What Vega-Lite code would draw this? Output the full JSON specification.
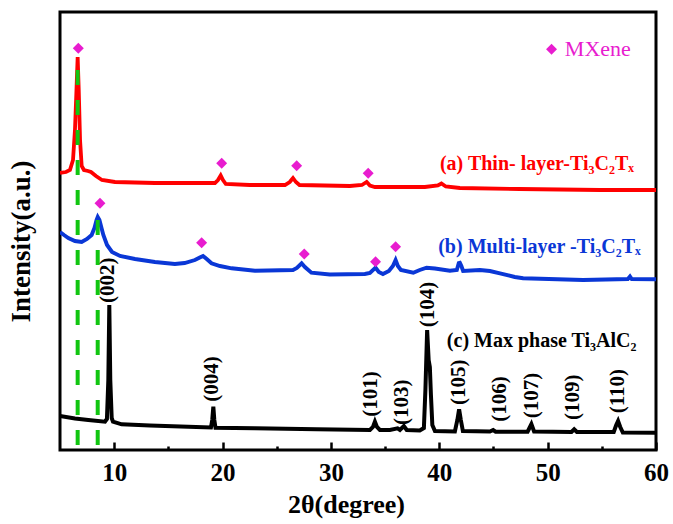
{
  "$schema": "https://vega.github.io/schema/vega-lite/v6.json",
  "autosize": "none",
  "width": 596,
  "height": 438,
  "padding": {"left": 60, "top": 12, "right": 17, "bottom": 74},
  "config": {
    "view": {"stroke": "black", "strokeWidth": 3},
    "font": "Liberation Serif",
    "axis": {"labelFont": "Liberation Serif", "titleFont": "Liberation Serif"},
    "text": {"font": "Liberation Serif"}
  },
  "datasets": {
    "xrd": [
      {"s": "a", "x": 5.0, "y": 277}, {"s": "a", "x": 5.55, "y": 278}, {"s": "a", "x": 5.92, "y": 280}, {"s": "a", "x": 6.2, "y": 290},
      {"s": "a", "x": 6.38, "y": 320}, {"s": "a", "x": 6.52, "y": 360}, {"s": "a", "x": 6.63, "y": 393}, {"s": "a", "x": 6.73, "y": 360},
      {"s": "a", "x": 6.85, "y": 310}, {"s": "a", "x": 7.0, "y": 284}, {"s": "a", "x": 7.21, "y": 280}, {"s": "a", "x": 7.58, "y": 279},
      {"s": "a", "x": 7.86, "y": 278}, {"s": "a", "x": 8.32, "y": 274}, {"s": "a", "x": 8.87, "y": 270}, {"s": "a", "x": 10.07, "y": 268},
      {"s": "a", "x": 13.76, "y": 267}, {"s": "a", "x": 17.9, "y": 267}, {"s": "a", "x": 19.3, "y": 267}, {"s": "a", "x": 19.58, "y": 270},
      {"s": "a", "x": 19.83, "y": 274.5}, {"s": "a", "x": 20.04, "y": 270}, {"s": "a", "x": 20.3, "y": 266}, {"s": "a", "x": 22.5, "y": 265},
      {"s": "a", "x": 25.76, "y": 265}, {"s": "a", "x": 26.2, "y": 268}, {"s": "a", "x": 26.5, "y": 272}, {"s": "a", "x": 26.77, "y": 268},
      {"s": "a", "x": 27.1, "y": 265}, {"s": "a", "x": 31.75, "y": 264}, {"s": "a", "x": 32.86, "y": 265}, {"s": "a", "x": 33.3, "y": 268},
      {"s": "a", "x": 33.6, "y": 264.5}, {"s": "a", "x": 34.06, "y": 263}, {"s": "a", "x": 38.67, "y": 263}, {"s": "a", "x": 39.87, "y": 264.5},
      {"s": "a", "x": 40.2, "y": 266.5}, {"s": "a", "x": 40.6, "y": 263.5}, {"s": "a", "x": 41.9, "y": 262}, {"s": "a", "x": 47.4, "y": 261},
      {"s": "a", "x": 54.8, "y": 260}, {"s": "a", "x": 60.0, "y": 260},

      {"s": "b", "x": 5.0, "y": 218}, {"s": "b", "x": 5.37, "y": 215}, {"s": "b", "x": 5.77, "y": 212}, {"s": "b", "x": 6.38, "y": 209},
      {"s": "b", "x": 7.0, "y": 208}, {"s": "b", "x": 7.49, "y": 211}, {"s": "b", "x": 7.92, "y": 215}, {"s": "b", "x": 8.18, "y": 222},
      {"s": "b", "x": 8.37, "y": 230}, {"s": "b", "x": 8.48, "y": 233}, {"s": "b", "x": 8.64, "y": 230}, {"s": "b", "x": 8.83, "y": 222},
      {"s": "b", "x": 9.0, "y": 215}, {"s": "b", "x": 9.34, "y": 205}, {"s": "b", "x": 9.8, "y": 198}, {"s": "b", "x": 10.54, "y": 194},
      {"s": "b", "x": 11.92, "y": 191}, {"s": "b", "x": 13.76, "y": 188}, {"s": "b", "x": 15.6, "y": 186}, {"s": "b", "x": 16.5, "y": 187},
      {"s": "b", "x": 17.45, "y": 190}, {"s": "b", "x": 17.9, "y": 192.5}, {"s": "b", "x": 18.2, "y": 194}, {"s": "b", "x": 18.54, "y": 191},
      {"s": "b", "x": 18.98, "y": 186.7}, {"s": "b", "x": 19.76, "y": 184}, {"s": "b", "x": 20.84, "y": 181.7}, {"s": "b", "x": 22.99, "y": 179.3},
      {"s": "b", "x": 26.5, "y": 180}, {"s": "b", "x": 26.86, "y": 182}, {"s": "b", "x": 27.3, "y": 186.7}, {"s": "b", "x": 27.6, "y": 183},
      {"s": "b", "x": 28.2, "y": 177.3}, {"s": "b", "x": 29.9, "y": 175.5}, {"s": "b", "x": 33.13, "y": 176}, {"s": "b", "x": 33.6, "y": 177},
      {"s": "b", "x": 34.12, "y": 182.3}, {"s": "b", "x": 34.42, "y": 178}, {"s": "b", "x": 34.8, "y": 176}, {"s": "b", "x": 35.35, "y": 179},
      {"s": "b", "x": 35.72, "y": 184}, {"s": "b", "x": 35.97, "y": 190}, {"s": "b", "x": 36.18, "y": 184}, {"s": "b", "x": 36.46, "y": 180},
      {"s": "b", "x": 37.6, "y": 177.3}, {"s": "b", "x": 38.2, "y": 180}, {"s": "b", "x": 38.83, "y": 182.3}, {"s": "b", "x": 39.6, "y": 181.5},
      {"s": "b", "x": 40.98, "y": 179.3}, {"s": "b", "x": 41.62, "y": 180}, {"s": "b", "x": 41.8, "y": 187}, {"s": "b", "x": 41.9, "y": 187.3},
      {"s": "b", "x": 42.04, "y": 184}, {"s": "b", "x": 42.2, "y": 179}, {"s": "b", "x": 43.75, "y": 180}, {"s": "b", "x": 44.67, "y": 179},
      {"s": "b", "x": 45.6, "y": 176.7}, {"s": "b", "x": 46.97, "y": 173}, {"s": "b", "x": 47.74, "y": 171.7}, {"s": "b", "x": 53.27, "y": 170},
      {"s": "b", "x": 57.4, "y": 171}, {"s": "b", "x": 57.6, "y": 173.5}, {"s": "b", "x": 57.76, "y": 171}, {"s": "b", "x": 60.0, "y": 170.7},

      {"s": "c", "x": 5.0, "y": 34}, {"s": "c", "x": 6.38, "y": 31.5}, {"s": "c", "x": 7.61, "y": 30}, {"s": "c", "x": 9.15, "y": 28.3},
      {"s": "c", "x": 9.33, "y": 31}, {"s": "c", "x": 9.46, "y": 70}, {"s": "c", "x": 9.55, "y": 145}, {"s": "c", "x": 9.64, "y": 70},
      {"s": "c", "x": 9.77, "y": 32}, {"s": "c", "x": 9.89, "y": 28.3}, {"s": "c", "x": 10.69, "y": 25.7}, {"s": "c", "x": 13.3, "y": 24.5},
      {"s": "c", "x": 16.84, "y": 23.3}, {"s": "c", "x": 18.93, "y": 22.5}, {"s": "c", "x": 19.05, "y": 30}, {"s": "c", "x": 19.15, "y": 43.3},
      {"s": "c", "x": 19.24, "y": 30}, {"s": "c", "x": 19.35, "y": 22.2}, {"s": "c", "x": 22.99, "y": 21.7}, {"s": "c", "x": 28.68, "y": 20.7},
      {"s": "c", "x": 33.6, "y": 20}, {"s": "c", "x": 33.88, "y": 23}, {"s": "c", "x": 34.06, "y": 28.3}, {"s": "c", "x": 34.25, "y": 23},
      {"s": "c", "x": 34.52, "y": 20}, {"s": "c", "x": 35.44, "y": 20}, {"s": "c", "x": 36.15, "y": 21.7}, {"s": "c", "x": 36.37, "y": 20},
      {"s": "c", "x": 36.73, "y": 24}, {"s": "c", "x": 37.0, "y": 20}, {"s": "c", "x": 38.2, "y": 19.5}, {"s": "c", "x": 38.58, "y": 22},
      {"s": "c", "x": 38.72, "y": 60}, {"s": "c", "x": 38.88, "y": 120}, {"s": "c", "x": 39.02, "y": 90}, {"s": "c", "x": 39.13, "y": 83},
      {"s": "c", "x": 39.23, "y": 55}, {"s": "c", "x": 39.36, "y": 25}, {"s": "c", "x": 39.6, "y": 19}, {"s": "c", "x": 41.44, "y": 18.5},
      {"s": "c", "x": 41.67, "y": 30}, {"s": "c", "x": 41.83, "y": 40.7}, {"s": "c", "x": 41.99, "y": 30}, {"s": "c", "x": 42.18, "y": 19},
      {"s": "c", "x": 44.67, "y": 18.5}, {"s": "c", "x": 44.97, "y": 20}, {"s": "c", "x": 45.2, "y": 18.3}, {"s": "c", "x": 48.15, "y": 18.3},
      {"s": "c", "x": 48.5, "y": 26}, {"s": "c", "x": 48.75, "y": 18.5}, {"s": "c", "x": 52.2, "y": 18}, {"s": "c", "x": 52.45, "y": 20.7},
      {"s": "c", "x": 52.7, "y": 18}, {"s": "c", "x": 56.1, "y": 18}, {"s": "c", "x": 56.33, "y": 25}, {"s": "c", "x": 56.5, "y": 29},
      {"s": "c", "x": 56.7, "y": 23}, {"s": "c", "x": 56.94, "y": 17.5}, {"s": "c", "x": 60.0, "y": 17.3}
    ],
    "markers": [
      {"x": 6.69, "y": 401.7}, {"x": 19.92, "y": 286.7}, {"x": 26.84, "y": 284.3}, {"x": 33.44, "y": 276.7},
      {"x": 8.69, "y": 246.7}, {"x": 18.07, "y": 207.3}, {"x": 27.54, "y": 196}, {"x": 34.12, "y": 188.3},
      {"x": 35.97, "y": 203.3}, {"x": 50.36, "y": 400.7}
    ],
    "guides": [
      {"x": 6.63, "top": 380, "bottom": 0},
      {"x": 8.48, "top": 230, "bottom": 0}
    ],
    "hkl": [
      {"x": 9.43, "y": 147, "t": "(002)"}, {"x": 19.07, "y": 48.3, "t": "(004)"}, {"x": 33.67, "y": 33.3, "t": "(101)"},
      {"x": 36.6, "y": 25, "t": "(103)"}, {"x": 38.93, "y": 122.7, "t": "(104)"}, {"x": 41.8, "y": 45, "t": "(105)"},
      {"x": 45.6, "y": 28.3, "t": "(106)"}, {"x": 48.6, "y": 31.7, "t": "(107)"}, {"x": 52.35, "y": 30, "t": "(109)"},
      {"x": 56.5, "y": 36.7, "t": "(110)"}
    ],
    "names": [
      {"s": "a", "x": 40.06, "y": 280, "t": "(a) Thin- layer-Ti₃C₂Tₓ"},
      {"s": "b", "x": 39.9, "y": 197, "t": "(b) Multi-layer -Ti₃C₂Tₓ"},
      {"s": "c", "x": 40.7, "y": 103, "t": "(c) Max phase Ti₃AlC₂"}
    ],
    "legend": [{"x": 51.59, "y": 401, "t": "MXene"}]
  },
  "layer": [
    {
      "data": {"name": "xrd"},
      "mark": {"type": "line", "clip": true},
      "encoding": {
        "x": {
          "field": "x", "type": "quantitative",
          "scale": {"domain": [5, 60], "nice": false, "zero": false},
          "axis": {
            "title": "2θ(degree)",
            "titleFont": "Liberation Serif", "titleFontWeight": "bold", "titleFontSize": 26, "titleColor": "black",
            "titleX": 286, "titleY": 62, "titleBaseline": "alphabetic", "titleAlign": "center", "titleAnchor": null,
            "values": [10, 15, 20, 25, 30, 35, 40, 45, 50, 55, 60],
            "labelExpr": "datum.value % 10 === 0 ? datum.label : ''",
            "labelFont": "Liberation Serif", "labelFontWeight": "bold", "labelFontSize": 25, "labelColor": "black",
            "labelBaseline": "alphabetic", "labelPadding": 38, "labelFlush": false, "labelOverlap": false,
            "domain": false, "grid": false,
            "tickColor": "black", "tickWidth": 2.5,
            "tickSize": {"condition": {"test": "datum.value % 10 === 0", "value": -8}, "value": -4}
          }
        },
        "y": {
          "field": "y", "type": "quantitative",
          "scale": {"domain": [0, 438], "nice": false, "zero": false},
          "axis": {
            "title": "Intensity(a.u.)",
            "titleFont": "Liberation Serif", "titleFontWeight": "bold", "titleFontSize": 27, "titleColor": "black",
            "titleAngle": 270, "titleX": -31, "titleY": 229, "titleBaseline": "alphabetic", "titleAlign": "center",
            "labels": false, "ticks": false, "domain": false, "grid": false
          }
        },
        "color": {
          "field": "s", "type": "nominal",
          "scale": {"domain": ["a", "b", "c"], "range": ["#ff0000", "#0a37d6", "#000000"]},
          "legend": null
        },
        "strokeWidth": {
          "field": "s", "type": "nominal",
          "scale": {"domain": ["a", "b", "c"], "range": [3.8, 4, 2.6]},
          "legend": null
        }
      }
    },
    {
      "data": {"name": "guides"},
      "mark": {"type": "rule", "color": "#11c611", "strokeWidth": 4, "strokeDash": [15, 15]},
      "encoding": {
        "x": {"field": "x", "type": "quantitative"},
        "y": {"field": "top", "type": "quantitative"},
        "y2": {"field": "bottom"}
      }
    },
    {
      "data": {"name": "markers"},
      "mark": {"type": "point", "shape": "diamond", "filled": true, "size": 120, "color": "#e81ccf", "opacity": 1},
      "encoding": {
        "x": {"field": "x", "type": "quantitative"},
        "y": {"field": "y", "type": "quantitative"}
      }
    },
    {
      "data": {"name": "hkl"},
      "mark": {"type": "text", "angle": 270, "align": "left", "baseline": "middle", "font": "Liberation Serif", "fontWeight": "bold", "fontSize": 21, "color": "black"},
      "encoding": {
        "x": {"field": "x", "type": "quantitative"},
        "y": {"field": "y", "type": "quantitative"},
        "text": {"field": "t"}
      }
    },
    {
      "data": {"name": "names"},
      "mark": {"type": "text", "align": "left", "baseline": "alphabetic", "font": "Liberation Serif", "fontWeight": "bold", "fontSize": 20},
      "encoding": {
        "x": {"field": "x", "type": "quantitative"},
        "y": {"field": "y", "type": "quantitative"},
        "text": {"field": "t"},
        "color": {"field": "s", "type": "nominal", "scale": {"domain": ["a", "b", "c"], "range": ["#ff0000", "#0a37d6", "#000000"]}, "legend": null}
      }
    },
    {
      "data": {"name": "legend"},
      "mark": {"type": "text", "align": "left", "baseline": "middle", "font": "Liberation Serif", "fontSize": 22, "color": "#e81ccf"},
      "encoding": {
        "x": {"field": "x", "type": "quantitative"},
        "y": {"field": "y", "type": "quantitative"},
        "text": {"field": "t"}
      }
    }
  ]
}
